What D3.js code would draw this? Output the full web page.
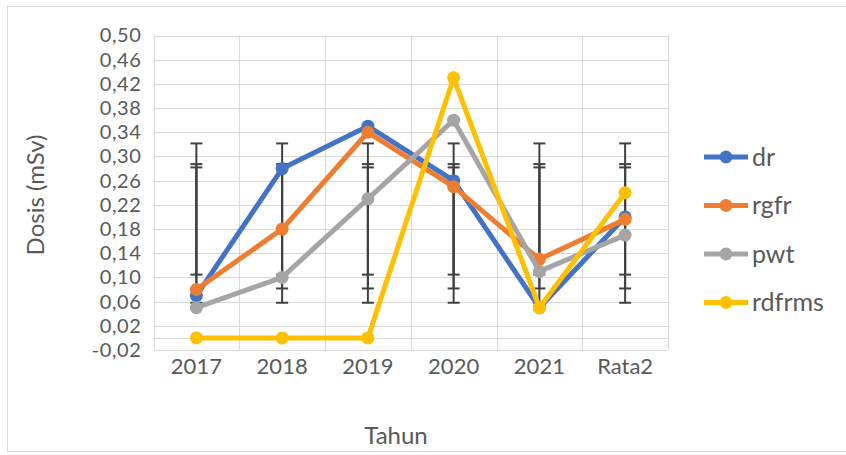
<!DOCTYPE html>
<html>
<head>
  <meta charset="utf-8">
  <title>Dosis per tahun</title>
  <script src="https://d3js.org/d3.v7.min.js"></script>
  <style>
    body { margin: 0; background: #fff; }
    svg text { font-family: Lato, "Open Sans", sans-serif; fill: #595959; }
    .grid line { stroke: #d9d9d9; stroke-width: 1; }
  </style>
</head>
<body>
<div id="chart"></div>
<script>
var categories = ["2017", "2018", "2019", "2020", "2021", "Rata2"];
var seriesNames = ["dr", "rgfr", "pwt", "rdfrms"];
var dr     = [0.07, 0.28, 0.35, 0.26, 0.05, 0.20];
var rgfr   = [0.08, 0.18, 0.34, 0.25, 0.13, 0.196];
var pwt    = [0.05, 0.10, 0.23, 0.36, 0.11, 0.17];
var rdfrms = [0.00, 0.00, 0.00, 0.43, 0.05, 0.24];
var yTicks = [-0.02, 0.02, 0.06, 0.10, 0.14, 0.18, 0.22, 0.26, 0.30, 0.34, 0.38, 0.42, 0.46, 0.50];
// series that carry Excel "standard deviation" error bars
var withErrorBars = ["dr", "rgfr", "pwt"];

var colors = { dr: "#4472c4", rgfr: "#ed7d31", pwt: "#a5a5a5", rdfrms: "#ffc000" };
var values = { dr: dr, rgfr: rgfr, pwt: pwt, rdfrms: rdfrms };

var W = 846, H = 455;
var plot = { left: 153.5, right: 668, top: 35.5, bottom: 350 };

var svg = d3.select("#chart").append("svg")
    .attr("width", W)
    .attr("height", H);

// chart border
svg.append("rect")
    .attr("x", 7.5).attr("y", 6.5)
    .attr("width", W).attr("height", 445)
    .attr("fill", "#fff")
    .attr("stroke", "#d9d9d9");

var x = d3.scaleBand().domain(categories).range([plot.left, plot.right]);
var y = d3.scaleLinear().domain([-0.02, 0.50]).range([plot.bottom, plot.top]);

var fmt = function(v) { return d3.format(".2f")(v).replace(".", ",").replace("−", "-"); };

// gridlines
var grid = svg.append("g").attr("class", "grid");
grid.selectAll(".h").data(yTicks.concat([0])).enter().append("line")
    .attr("x1", plot.left).attr("x2", plot.right)
    .attr("y1", function(d) { return Math.round(y(d)) + 0.5; })
    .attr("y2", function(d) { return Math.round(y(d)) + 0.5; });
var edges = categories.map(function(c) { return x(c); }).concat([plot.right]);
grid.selectAll(".v").data(edges).enter().append("line")
    .attr("x1", function(d) { return Math.round(d) + 0.5; })
    .attr("x2", function(d) { return Math.round(d) + 0.5; })
    .attr("y1", plot.top).attr("y2", plot.bottom);

// y axis labels
var yAxis = d3.axisLeft(y).tickValues(yTicks).tickFormat(fmt).tickSize(0).tickPadding(12);
var gy = svg.append("g").attr("transform", "translate(" + plot.left + ",0)").call(yAxis);
gy.select(".domain").remove();
gy.selectAll("text").style("font-size", "20px").style("letter-spacing", "0.6px").attr("fill", "#595959");

// x axis labels
var xAxis = d3.axisBottom(x).tickSize(0).tickPadding(8);
var gx = svg.append("g").attr("transform", "translate(0," + plot.bottom + ")").call(xAxis);
gx.select(".domain").remove();
gx.selectAll("text").style("font-size", "22px").attr("fill", "#595959");

// axis titles
svg.append("text")
    .attr("transform", "translate(36,195) rotate(-90)")
    .attr("text-anchor", "middle")
    .attr("dy", "0.35em")
    .style("font-size", "24px")
    .text("Dosis (mSv)");
svg.append("text")
    .attr("x", 396).attr("y", 436)
    .attr("text-anchor", "middle")
    .attr("dy", "0.35em")
    .style("font-size", "24px")
    .text("Tahun");

// error bars: mean +/- standard deviation of each series, at every category
var cx = function(c) { return x(c) + x.bandwidth() / 2; };
var eb = svg.append("g").attr("stroke", "#404040").attr("stroke-width", 2);
withErrorBars.forEach(function(name) {
  var m = d3.mean(values[name]), s = d3.deviation(values[name]);
  categories.forEach(function(c) {
    var xc = cx(c);
    eb.append("line").attr("x1", xc).attr("x2", xc).attr("y1", y(m - s)).attr("y2", y(m + s));
    [m - s, m + s].forEach(function(v) {
      eb.append("line").attr("x1", xc - 6).attr("x2", xc + 6).attr("y1", y(v)).attr("y2", y(v));
    });
  });
});

// series lines with markers
var line = d3.line().x(function(d, i) { return cx(categories[i]); }).y(function(d) { return y(d); });
seriesNames.forEach(function(name) {
  var g = svg.append("g");
  g.append("path")
      .datum(values[name])
      .attr("d", line)
      .attr("fill", "none")
      .attr("stroke", colors[name])
      .attr("stroke-width", 5)
      .attr("stroke-linejoin", "round");
  g.selectAll("circle").data(values[name]).enter().append("circle")
      .attr("cx", function(d, i) { return cx(categories[i]); })
      .attr("cy", function(d) { return y(d); })
      .attr("r", 6.5)
      .attr("fill", colors[name]);
});

// legend
var legend = svg.selectAll(".legend").data(seriesNames).enter().append("g")
    .attr("class", "legend")
    .attr("transform", function(d, i) { return "translate(704," + (157 + i * 48.5) + ")"; });
legend.append("line")
    .attr("x1", 0).attr("x2", 44)
    .attr("stroke", function(d) { return colors[d]; })
    .attr("stroke-width", 5);
legend.append("circle")
    .attr("cx", 22).attr("r", 6.5)
    .attr("fill", function(d) { return colors[d]; });
legend.append("text")
    .attr("x", 48).attr("dy", "0.35em")
    .style("font-size", "25px")
    .text(function(d) { return d; });
</script>
</body>
</html>
